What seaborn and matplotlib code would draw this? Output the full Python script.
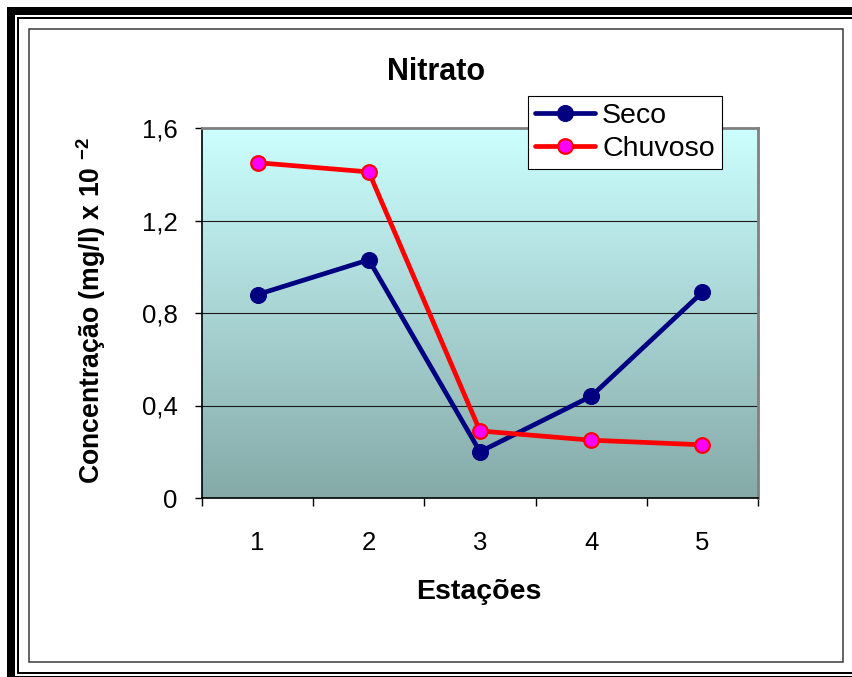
import numpy as np
import pandas as pd
import matplotlib
matplotlib.use("Agg")
import matplotlib.pyplot as plt
from matplotlib.patches import Rectangle
import seaborn as sns

# dados
estacoes = [1, 2, 3, 4, 5]
seco = [0.88, 1.03, 0.20, 0.44, 0.89]
chuvoso = [1.45, 1.41, 0.29, 0.25, 0.23]
y_ticks = [0, 0.4, 0.8, 1.2, 1.6]
y_tick_labels = ["0", "0,4", "0,8", "1,2", "1,6"]

sns.set_style("white")
plt.rcParams["font.family"] = ["Liberation Sans", "DejaVu Sans"]
plt.rcParams["mathtext.fontset"] = "custom"
plt.rcParams["mathtext.rm"] = "Liberation Sans"
plt.rcParams["mathtext.bf"] = "Liberation Sans:bold"
for k in ["text.color", "axes.labelcolor", "xtick.color", "ytick.color"]:
    plt.rcParams[k] = "black"

W, H = 853, 677
fig = plt.figure(figsize=(W / 100, H / 100), dpi=100)
fig.patch.set_facecolor("white")


def fx(px):
    return px / W


def fy(py):
    return 1 - py / H


def box(x0, y0, x1, y1, **kw):
    fig.patches.append(Rectangle((fx(x0), fy(y1)), (x1 - x0) / W, (y1 - y0) / H,
                                 transform=fig.transFigure, figure=fig, zorder=-10, **kw))


# moldura dupla
box(7, 7, 880, 700, fc="black", lw=0)
box(15, 15, 880, 675.5, fc="white", lw=0)
box(17, 17, 880, 673.5, fc="black", lw=0)
box(19, 19, 880, 671.5, fc="white", lw=0)
box(29, 29, 843, 662, fc="none", ec="#3a3a3a", lw=1.1)

ax = fig.add_axes([fx(202), fy(498), (758 - 202) / W, (498 - 128) / H])

# fundo em degradê
top = np.array([204, 255, 255]) / 255
bot = np.array([133, 170, 168]) / 255
t = np.linspace(0, 1, 256)[:, None]
grad = (top * (1 - t) + bot * t)[:, None, :]
ax.imshow(grad, extent=[0.5, 5.5, 0, 1.6], aspect="auto", origin="upper",
          zorder=0, interpolation="bilinear")

df = pd.DataFrame({"Estação": estacoes, "Seco": seco, "Chuvoso": chuvoso})

sns.lineplot(data=df, x="Estação", y="Seco", ax=ax, errorbar=None, label="Seco",
             color="#000080", linewidth=3.4, marker="o", markersize=11.5,
             markerfacecolor="#000080", markeredgecolor="#000080", zorder=4)
sns.lineplot(data=df, x="Estação", y="Chuvoso", ax=ax, errorbar=None, label="Chuvoso",
             color="#FF0000", linewidth=3.4, marker="o", markersize=10.5,
             markerfacecolor="#FF00FF", markeredgecolor="#FF0000",
             markeredgewidth=1.6, zorder=4)

ax.set_xlim(0.5, 5.5)
ax.set_ylim(0, 1.6)
ax.set_yticks(y_ticks, y_tick_labels)
ax.set_xticks(estacoes, [str(e) for e in estacoes])
ax.set_xticks(np.arange(0.5, 6, 1), minor=True)

ax.tick_params(axis="x", which="major", length=0, pad=24, labelsize=18.5, bottom=True)
ax.tick_params(axis="x", which="minor", length=6, width=1, color="black",
               direction="out", bottom=True)
ax.tick_params(axis="y", length=5, width=1, color="black", direction="out",
               pad=12.5, labelsize=18.5, left=True)

ax.grid(True, axis="y", color="#1a1a1a", linewidth=0.8)
ax.grid(False, axis="x")

for s in ["left", "bottom"]:
    ax.spines[s].set_color("black")
    ax.spines[s].set_linewidth(1.2)
for s in ["top", "right"]:
    ax.spines[s].set_color("#808080")
    ax.spines[s].set_linewidth(2)

fig.text(fx(436.5), fy(80), "Nitrato", ha="center", va="baseline",
         fontsize=22, fontweight="bold")

ax.set_xlabel("Estações", fontsize=20.5, fontweight="bold")
ax.xaxis.set_label_coords(fx(479), fy(599), transform=fig.transFigure)
ax.xaxis.label.set_va("baseline")

ax.set_ylabel(r"Concentração (mg/l) x 10 $^{\mathbf{-2}}$", fontsize=19.2, fontweight="bold")
ax.yaxis.set_label_coords(fx(91), fy(311), transform=fig.transFigure)
ax.yaxis.label.set_va("center")

leg = ax.legend(loc="upper left", bbox_to_anchor=(fx(528), fy(96)),
                bbox_transform=fig.transFigure, borderaxespad=0, fontsize=20.5,
                frameon=True, fancybox=False, shadow=False, framealpha=1,
                edgecolor="black", facecolor="white", handlelength=2.1,
                handletextpad=0.25, borderpad=0.25, labelspacing=0.25)
leg.get_frame().set_linewidth(0.8)

fig.savefig("out.png", dpi=100)
